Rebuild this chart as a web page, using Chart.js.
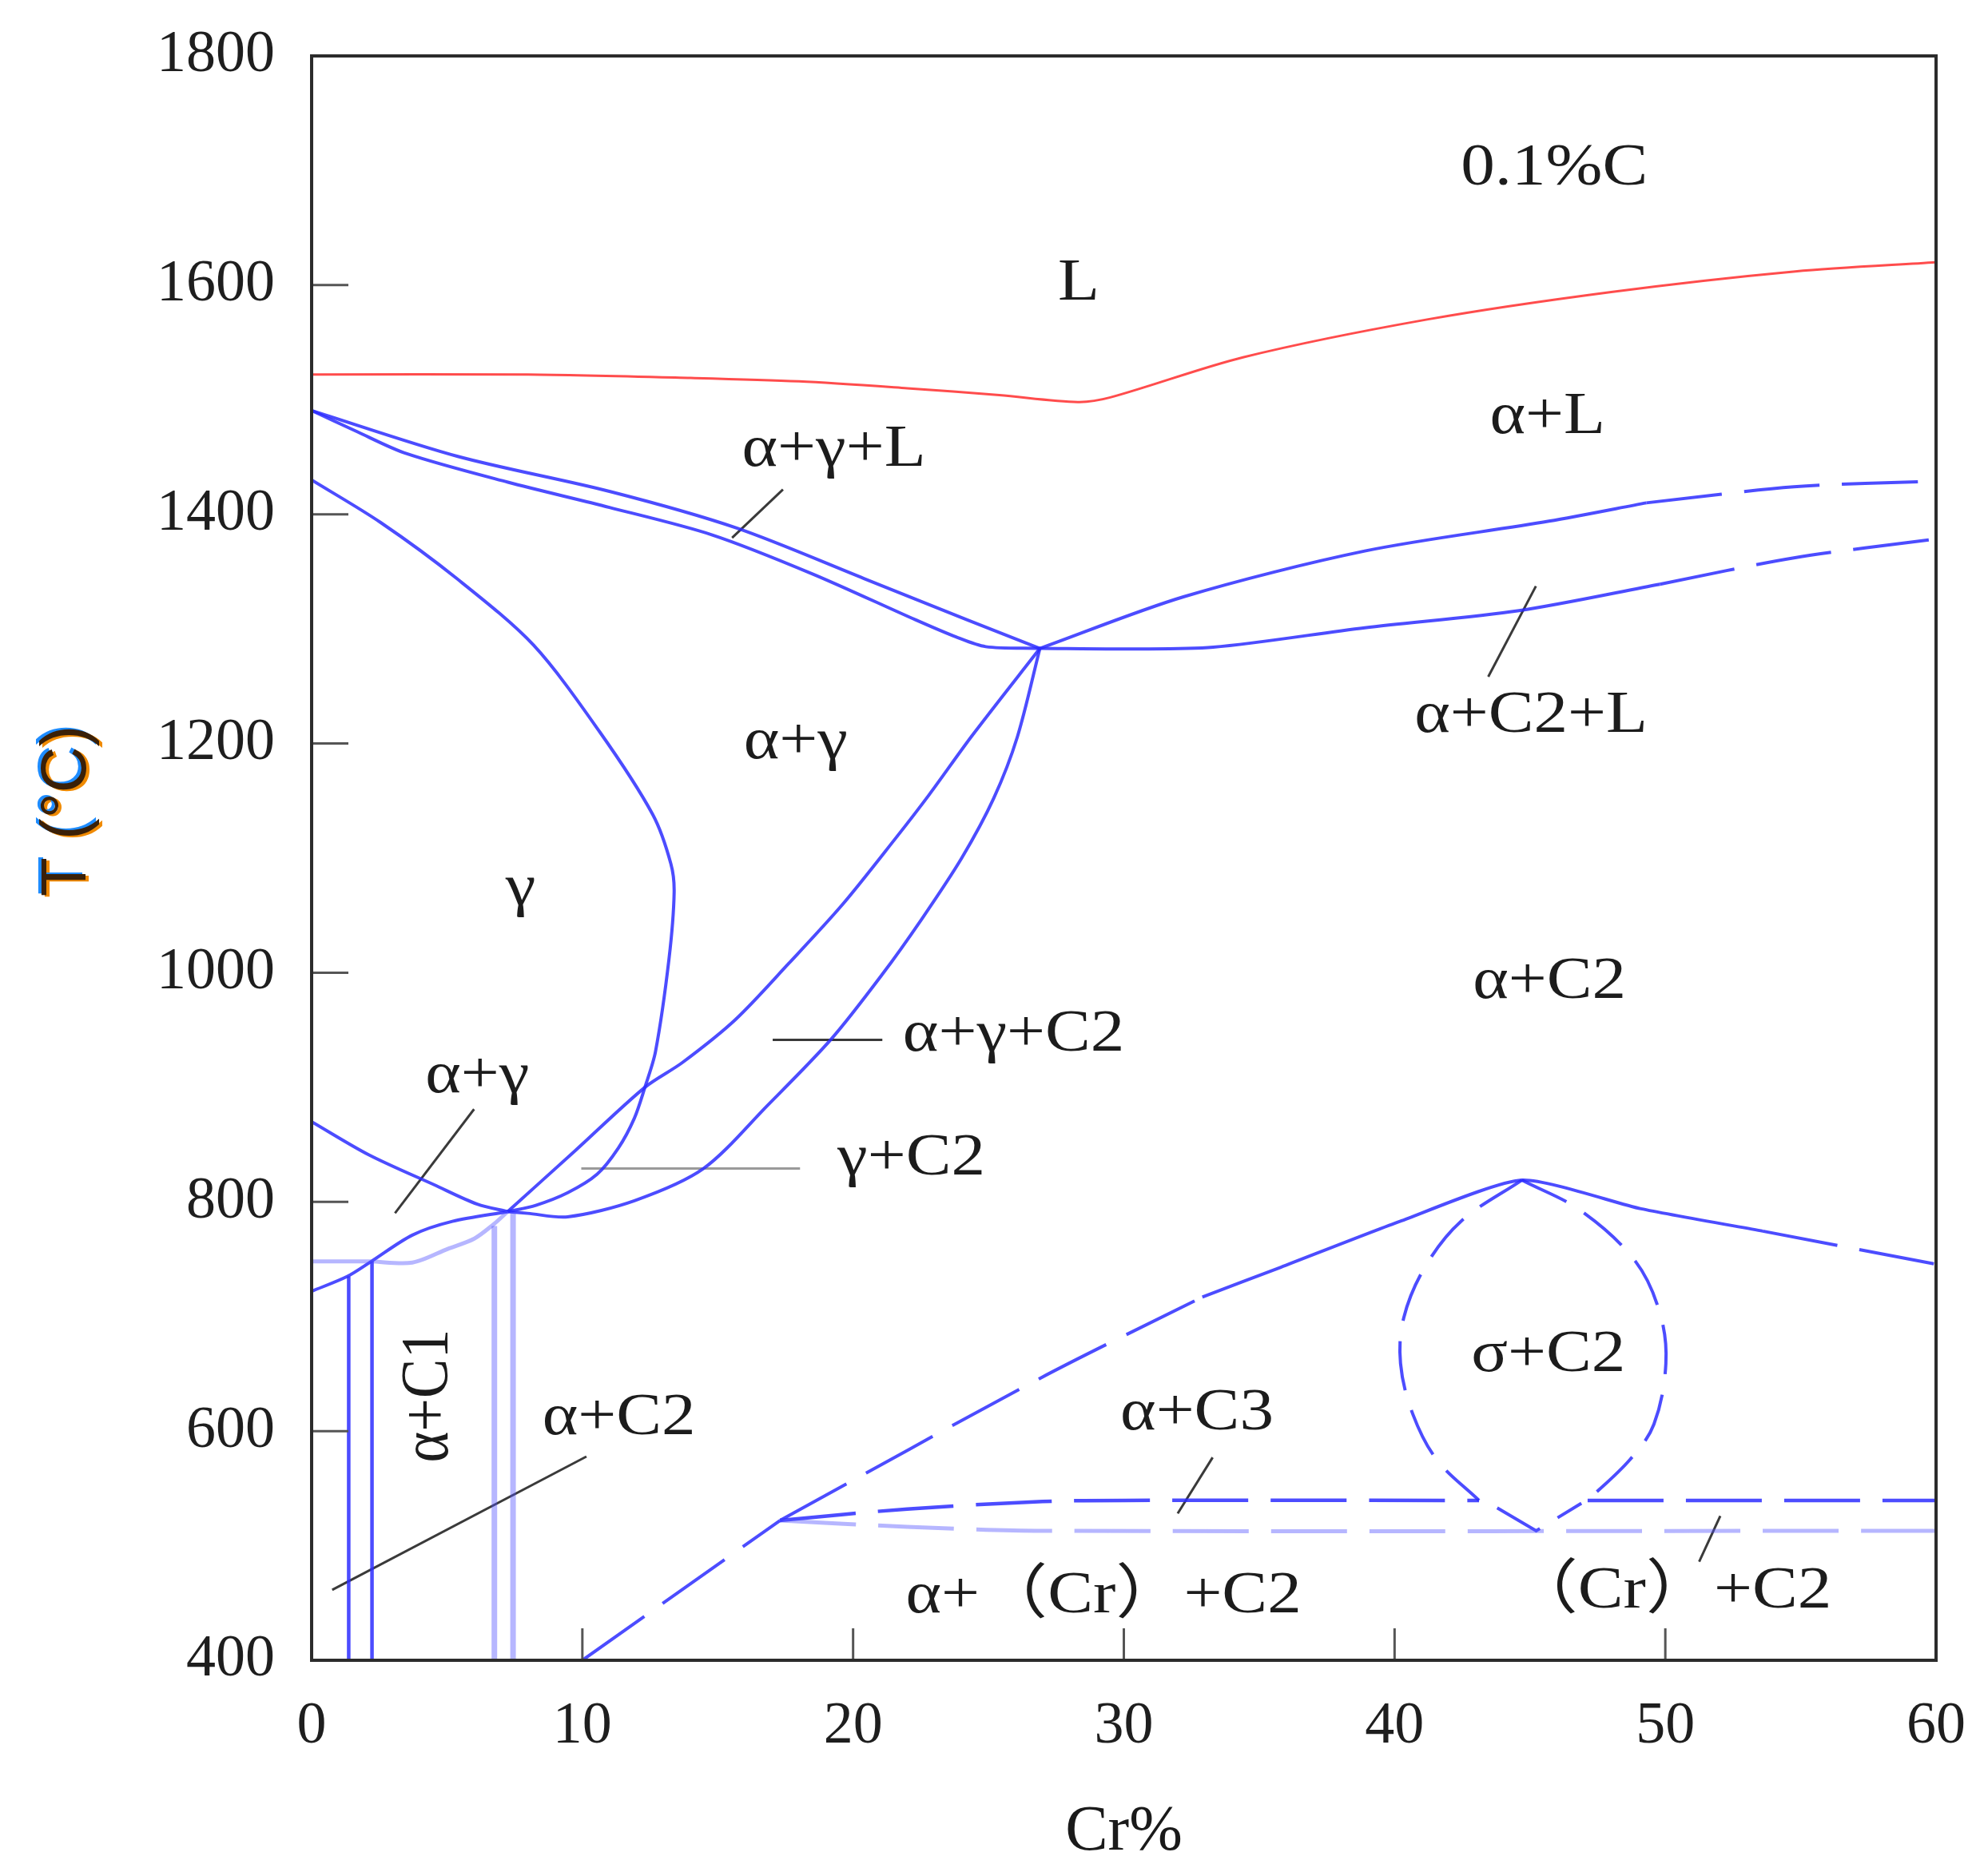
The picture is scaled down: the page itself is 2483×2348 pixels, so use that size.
<!DOCTYPE html>
<html>
<head>
<meta charset="utf-8">
<script src="https://cdn.jsdelivr.net/npm/chart.js@4.4.0/dist/chart.umd.min.js"></script>
<style>
  html, body { margin: 0; padding: 0; background: #fff; }
  canvas { display: block; }
</style>
</head>
<body>
<canvas id="phaseChart" width="2483" height="2348"></canvas>
<script>
// section at 0.1%C, points are [Cr%, T]
const xTicks = [0, 10, 20, 30, 40, 50, 60];
const yTicks = [400, 600, 800, 1000, 1200, 1400, 1600, 1800];

const liquidus = [[0,1522],[8,1522],[14,1519],[18,1516],[22,1510],[25.4,1504],[28.3,1498],[29.5,1502],[34.4,1537],[41.2,1570],[48,1594],[54.8,1612],[60,1620]];

const solidusTop = [[0,1490.5],[5.4,1450.5],[11,1420],[15.7,1388],[20.4,1344],[24.2,1308],[26.9,1283]];
const solidusBottom = [[0,1490.5],[1.6,1473],[3.5,1453],[7.25,1428],[11,1406],[14.8,1382],[18.5,1348],[22.3,1308],[23.8,1293],[24.9,1284.5],[26.9,1283]];

const rightTop = [[26.9,1283],[32.2,1328],[38.9,1368],[45.7,1394],[49.3,1410]];
const rightTopDash = [[49.3,1410],[54.75,1424],[60,1429]];
const rightBottom = [[26.9,1283],[30,1282.5],[33.3,1284],[38.9,1301],[44.6,1316],[49.8,1339]];
const rightBottomDash = [[49.8,1339],[54.75,1362],[60,1378.5]];

const gammaLoop = [[0,1430],[2.54,1393],[5.36,1344],[8.19,1286],[10.63,1210.5],[12.6,1138],[13.27,1095],[13.39,1070],[13.2,1012],[12.7,931],[12.31,900],[11.92,873],[11.33,847],[10.54,824],[9.46,808],[8.28,797],[7.24,791.5]];
const alphaGammaA = [[26.9,1283],[24.4,1207],[22.8,1155],[21.56,1117],[19.59,1059],[17.62,1008],[15.65,959],[13.69,921.5],[12.31,900],[9.75,845],[7.24,791.5]];
const alphaGammaB = [[26.9,1283],[26.07,1206],[25.19,1152],[24.01,1100],[22.54,1047],[21.06,998],[19.19,942],[16.83,884],[14.47,829],[11.92,801],[9.46,787],[7.98,790],[7.24,791.5]];

const gammaLower = [[0,870],[2.12,841],[4.52,815],[6.12,798],[7.24,791.5]];
const lensUpper = [[0,722],[1.32,735],[2.2,748],[3.72,771],[5.2,783],[7.24,791.5]];
const lensLower = [[2.2,748],[3.72,747],[5.03,759],[6.01,768],[6.7,780],[7.24,791.5]];
const lensFlat = [[0,748],[2.2,748]];
const vertDark1 = [[1.37,735],[1.37,400]];
const vertDark2 = [[2.23,748],[2.23,400]];
const vertLight1 = [[6.75,779],[6.75,400]];
const vertLight2 = [[7.44,791],[7.44,400]];

const alphaDiagLow = [[10,400],[17.3,522]];
const alphaDiagMid = [[17.3,522],[26.9,646],[32.9,717]];
const alphaPeak = [[32.9,717],[35.8,743],[40.2,783],[44.7,819],[49.1,794],[53.6,774.5]];
const alphaRight = [[53.6,774.5],[60,745.6]];

const c3Upper = [[17.3,522],[22,532],[27,538.5],[30,539.5],[43.12,539.5]];
const c3UpperRight = [[47.13,539.5],[60,539.5]];
const crLower = [[17.3,522],[22,516.5],[27,513],[60,513]];

const sigmaLeft = [[44.7,819],[42.45,783],[41.12,743],[40.34,699],[40.22,659],[40.67,615],[41.56,575],[43.12,539.5]];
const sigmaRight = [[44.7,819],[46.9,792],[48.9,748],[49.8,703],[50.02,659],[49.58,606],[48.69,575],[47.13,539.5]];
const sigmaV = [[43.79,533],[45.23,513],[46.9,537]];

// pointer lines from labels
const leadAGL = [[15.53,1379.5],[17.41,1421.7]];
const leadAC2L = [[43.46,1258.3],[45.22,1337.3]];
const leadAGC2 = [[17.03,941.4],[21.08,941.4]];
const leadGC2 = [[9.96,829.1],[18.04,829.1]];
const leadAG = [[3.08,790.2],[6.0,880.9]];
const leadAC2 = [[0.76,461.4],[10.15,577.8]];
const leadAC3 = [[31.99,528.1],[33.28,577]];
const leadCrC2 = [[51.25,486],[52.03,526]];

// region labels, baseline position
const labelText = ['0.1%C', 'L', 'α+L', 'α+γ+L', 'α+γ', 'α+C2+L', 'γ', 'α+C2', 'α+γ+C2', 'α+γ', 'γ+C2', 'σ+C2', 'α+C2', 'α+C3', 'α+（Cr）+C2', '（Cr）+C2'];
const labelX = [45.9, 28.33, 45.65, 19.29, 17.88, 45.04, 7.72, 45.72, 25.93, 6.12, 22.15, 45.68, 11.35, 32.7, 29.25, 50.2];
const labelT = [1688, 1587.5, 1470.7, 1442.5, 1187.4, 1210.3, 1059.3, 978.2, 932, 896, 823.9, 652.4, 597.4, 601.4, 441.5, 446];
const sideLabel = ['α+C1', 4.36, 630.8];

const BLUE = 'rgba(45,45,255,0.85)';
const BLUE_LIGHT = 'rgba(80,80,255,0.42)';
const RED = 'rgba(255,45,45,0.85)';
const LEAD = '#3a3a3a';
const LEAD_LIGHT = '#9a9a9a';
const SERIF = "'Liberation Serif', 'Noto Sans CJK SC', serif";

function mk(pts, color, width, tension, dash) {
  return {
    data: pts.map(p => ({x: p[0], y: p[1]})),
    showLine: true,
    borderColor: color,
    borderWidth: width,
    borderDash: dash || [],
    tension: tension,
    pointRadius: 0,
    pointHoverRadius: 0,
    fill: false
  };
}

const LONG = [95, 28];
const SHORT = [62, 26];

const datasets = [
  mk(lensLower, BLUE_LIGHT, 5, 0.3),
  mk(lensFlat, BLUE_LIGHT, 5, 0),
  mk(vertLight1, BLUE_LIGHT, 7, 0),
  mk(vertLight2, BLUE_LIGHT, 7, 0),
  mk(crLower, BLUE_LIGHT, 5, 0.3, LONG),
  mk(liquidus, RED, 3, 0.3),
  mk(solidusTop, BLUE, 4, 0.3),
  mk(solidusBottom, BLUE, 4, 0.3),
  mk(rightTop, BLUE, 4, 0.3),
  mk(rightTopDash, BLUE, 4, 0.3, LONG),
  mk(rightBottom, BLUE, 4, 0.3),
  mk(rightBottomDash, BLUE, 4, 0.3, LONG),
  mk(gammaLoop, BLUE, 4, 0.3),
  mk(alphaGammaA, BLUE, 4, 0.3),
  mk(alphaGammaB, BLUE, 4, 0.3),
  mk(gammaLower, BLUE, 4, 0.3),
  mk(lensUpper, BLUE, 4, 0.3),
  mk(vertDark1, BLUE, 4.5, 0),
  mk(vertDark2, BLUE, 4.5, 0),
  mk(alphaDiagLow, BLUE, 4, 0, LONG),
  mk(alphaDiagMid, BLUE, 4, 0.3, LONG),
  mk(alphaPeak, BLUE, 4, 0.2),
  mk(alphaRight, BLUE, 4, 0, LONG),
  mk(c3Upper, BLUE, 4.5, 0.3, LONG),
  mk(c3UpperRight, BLUE, 4.5, 0, LONG),
  mk(sigmaLeft, BLUE, 4, 0.35, SHORT),
  mk(sigmaRight, BLUE, 4, 0.35, SHORT),
  mk(sigmaV, BLUE, 4, 0, SHORT),
  mk(leadAGL, LEAD, 3, 0),
  mk(leadAC2L, LEAD, 3, 0),
  mk(leadAGC2, LEAD, 3, 0),
  mk(leadGC2, LEAD_LIGHT, 3, 0),
  mk(leadAG, LEAD, 3, 0),
  mk(leadAC2, LEAD, 3, 0),
  mk(leadAC3, LEAD, 3, 0),
  mk(leadCrC2, LEAD, 3, 0)
];

function drawText(ctx, txt, px, py, o) {
  ctx.save();
  ctx.translate(px, py);
  ctx.scale(o.sx || 1, 1);
  if (o.rot) ctx.rotate(o.rot);
  ctx.font = o.font;
  ctx.fillStyle = o.color;
  ctx.textAlign = o.align || 'center';
  ctx.textBaseline = o.baseline || 'alphabetic';
  ctx.fillText(txt, 0, 0);
  ctx.restore();
}

const decor = {
  id: 'decor',
  afterDatasetsDraw(chart) {
    const ctx = chart.ctx;
    const a = chart.chartArea;
    const xs = chart.scales.x, ys = chart.scales.y;
    ctx.save();

    // inward tick marks
    ctx.strokeStyle = '#555';
    ctx.lineWidth = 3;
    ctx.beginPath();
    xTicks.forEach(v => {
      if (v <= xs.min || v >= xs.max) return;
      const px = xs.getPixelForValue(v);
      ctx.moveTo(px, a.bottom);
      ctx.lineTo(px, a.bottom - 40);
    });
    yTicks.forEach(v => {
      if (v <= ys.min || v >= ys.max) return;
      const py = ys.getPixelForValue(v);
      ctx.moveTo(a.left, py);
      ctx.lineTo(a.left + 46, py);
    });
    ctx.stroke();

    // frame
    ctx.strokeStyle = '#2b2b2b';
    ctx.lineWidth = 4;
    ctx.strokeRect(a.left, a.top, a.right - a.left, a.bottom - a.top);

    // region labels
    const lf = '74px ' + SERIF;
    labelText.forEach((t, i) => {
      drawText(ctx, t, xs.getPixelForValue(labelX[i]), ys.getPixelForValue(labelT[i]),
        {font: lf, color: '#1c1c1c', sx: 1.15});
    });
    drawText(ctx, sideLabel[0], xs.getPixelForValue(sideLabel[1]), ys.getPixelForValue(sideLabel[2]),
      {font: lf, color: '#1c1c1c', sx: 1.15, rot: -Math.PI / 2, baseline: 'middle'});

    // axis titles
    drawText(ctx, 'Cr%', (a.left + a.right) / 2, 2315, {font: '80px ' + SERIF, color: '#1a1a1a'});
    const tf = "80px 'Liberation Sans', Arial, sans-serif";
    const ty = 1016;
    drawText(ctx, 'T (°C)', 111, ty + 1, {font: tf, color: '#f08a00', rot: -Math.PI / 2});
    drawText(ctx, 'T (°C)', 103, ty - 3, {font: tf, color: '#1e8cff', rot: -Math.PI / 2});
    drawText(ctx, 'T (°C)', 107, ty - 1, {font: tf, color: '#3a2008', rot: -Math.PI / 2});

    ctx.restore();
  }
};

new Chart(document.getElementById('phaseChart'), {
  type: 'scatter',
  data: { datasets: datasets },
  plugins: [decor],
  options: {
    responsive: false,
    animation: false,
    events: [],
    layout: { padding: { top: 70, right: 60, left: 0, bottom: 0 } },
    plugins: { legend: { display: false }, tooltip: { enabled: false } },
    scales: {
      x: {
        type: 'linear', min: 0, max: 60,
        afterBuildTicks: s => { s.ticks = xTicks.map(v => ({value: v})); },
        afterFit: s => { s.height = 270; },
        grid: { display: false, drawTicks: false },
        border: { display: false },
        // small padding keeps the right overflow under 60px; tall line box moves labels down
        ticks: { font: { family: SERIF, size: 74, lineHeight: 1.73 }, color: '#1e1e1e', padding: 20, maxRotation: 0,
                 callback: v => String(v) }
      },
      y: {
        type: 'linear', min: 400, max: 1800,
        afterBuildTicks: s => { s.ticks = yTicks.map(v => ({value: v})); },
        afterFit: s => { s.width = 390; },
        grid: { display: false, drawTicks: false },
        border: { display: false },
        ticks: { font: { family: SERIF, size: 74, lineHeight: 0.6 }, color: '#1e1e1e', padding: 46,
                 callback: v => String(v) }
      }
    }
  }
});
</script>
</body>
</html>
